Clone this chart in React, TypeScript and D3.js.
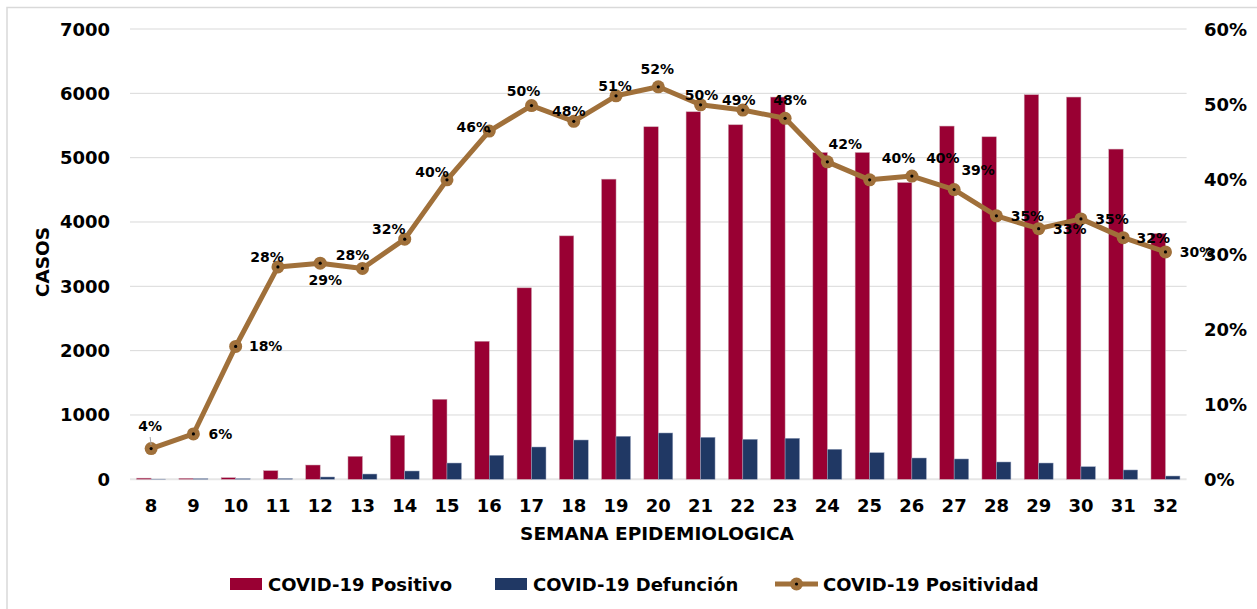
import React from "react";
import * as d3 from "d3";

// semanas epidemiologicas
const weeks = ["8", "9", "10", "11", "12", "13", "14", "15", "16", "17", "18", "19", "20", "21", "22", "23", "24", "25", "26", "27", "28", "29", "30", "31", "32"];
const positivos = [18, 15, 25, 134, 222, 357, 684, 1244, 2146, 2976, 3784, 4666, 5480, 5713, 5511, 5942, 5080, 5080, 4613, 5491, 5324, 5978, 5942, 5133, 3820];
const defunciones = [3, 10, 10, 12, 36, 82, 129, 253, 373, 502, 611, 669, 720, 653, 622, 638, 467, 414, 331, 316, 269, 253, 196, 145, 51];
const positividad = [0.041, 0.0604, 0.177, 0.283, 0.288, 0.281, 0.32, 0.399, 0.464, 0.498, 0.477, 0.511, 0.523, 0.499, 0.492, 0.481, 0.423, 0.399, 0.404, 0.386, 0.351, 0.334, 0.347, 0.322, 0.303];
const leftTicks = [0, 1000, 2000, 3000, 4000, 5000, 6000, 7000];
const rightTicks = [0, 0.1, 0.2, 0.3, 0.4, 0.5, 0.6];

// where each percent label sits relative to its point (dx, dy)
const labelOffsets = [
  [-1, -23], [27, 0], [30, 0], [-11, -10], [5, 17], [-10, -13], [-16, -10], [-15, -8],
  [-16, -4], [-8, -15], [-5, -10], [-1, -10], [-1, -18], [1, -10], [-4, -10], [5, -18],
  [18, -18], [29, -22], [31, -18], [24, -20], [31, 0], [31, 0], [31, 0], [30, 0], [31, 0],
];

const RED = "#990033";
const BLUE = "#203864";
const BROWN = "#A0703A";
const GRID = "#d9d9d9";
const FONT = "'DejaVu Sans', sans-serif";

const App = () => {
  const left = 130;
  const right = 1186.6;
  const top = 29;
  const bottom = 479.3;

  const x = d3.scaleBand().domain(weeks).range([left, right]).paddingInner(0).paddingOuter(0);
  const inner = d3.scaleBand().domain(["pos", "def"]).range([0, x.bandwidth()]).paddingInner(0).paddingOuter(0.46);
  const y = d3.scaleLinear().domain([0, 7000]).range([bottom, top]);
  const y2 = d3.scaleLinear().domain([0, 0.6]).range([bottom, top]);
  const cx = (w) => x(w) + x.bandwidth() / 2;

  const line = d3
    .line()
    .x((d, i) => cx(weeks[i]))
    .y((d) => y2(d));

  const pct = d3.format(".0%");

  return (
    <svg width={1257} height={609} style={{ position: "absolute", left: 0, top: 0, fontFamily: FONT }}>
      <rect x={0} y={0} width={1257} height={609} fill="#fff" />
      {/* frame */}
      <rect x={7} y={7.5} width={1300} height={700} fill="none" stroke={GRID} strokeWidth={1.5} />

      {/* grid lines */}
      {leftTicks.map((t) => (
        <line key={"g" + t} x1={left} x2={right} y1={y(t)} y2={y(t)} stroke={t === 0 ? "#e6e6e6" : GRID} strokeWidth={t === 0 ? 2 : 1} />
      ))}

      {/* left axis */}
      {leftTicks.map((t) => (
        <text key={"l" + t} x={110} y={y(t)} textAnchor="end" dominantBaseline="central" fontSize={18} fontWeight="bold" fill="#000">
          {t}
        </text>
      ))}
      {/* right axis */}
      {rightTicks.map((t) => (
        <text key={"r" + t} x={1204} y={y2(t)} textAnchor="start" dominantBaseline="central" fontSize={18} fontWeight="bold" fill="#000">
          {pct(t)}
        </text>
      ))}

      {/* bars */}
      {weeks.map((w, i) => (
        <g key={"b" + w}>
          <rect x={x(w) + inner("pos")} y={y(positivos[i])} width={inner.bandwidth()} height={bottom - y(positivos[i])} fill={RED} stroke="#c9a0ad" strokeWidth={0.5} />
          <rect x={x(w) + inner("def")} y={y(defunciones[i])} width={inner.bandwidth()} height={bottom - y(defunciones[i])} fill={BLUE} stroke="#9aa6c0" strokeWidth={0.5} />
        </g>
      ))}

      {/* x axis labels */}
      {weeks.map((w) => (
        <text key={"x" + w} x={cx(w)} y={505} textAnchor="middle" dominantBaseline="central" fontSize={18} fontWeight="bold" fill="#000">
          {w}
        </text>
      ))}

      {/* axis titles */}
      <text x={657} y={533} textAnchor="middle" dominantBaseline="central" fontSize={18.5} fontWeight="bold" fill="#000">
        SEMANA EPIDEMIOLOGICA
      </text>
      <text transform={`translate(42,262) rotate(-90)`} textAnchor="middle" dominantBaseline="central" fontSize={18.5} fontWeight="bold" fill="#000">
        CASOS
      </text>

      {/* positividad line */}
      <path d={line(positividad)} fill="none" stroke={BROWN} strokeWidth={5} strokeLinejoin="round" />
      {positividad.map((v, i) => (
        <g key={"p" + i}>
          <circle cx={cx(weeks[i])} cy={y2(v)} r={6.5} fill={BROWN} />
          <circle cx={cx(weeks[i])} cy={y2(v)} r={1.6} fill="#000" />
        </g>
      ))}
      {/* leader line for first label */}
      <line x1={cx(weeks[0]) - 1} x2={cx(weeks[0])} y1={437} y2={445} stroke="#a6a6a6" strokeWidth={1} />
      {positividad.map((v, i) => (
        <text
          key={"t" + i}
          x={cx(weeks[i]) + labelOffsets[i][0]}
          y={y2(v) + labelOffsets[i][1]}
          textAnchor="middle"
          dominantBaseline="central"
          fontSize={14}
          fontWeight="bold"
          fill="#000"
        >
          {pct(v)}
        </text>
      ))}

      {/* legend */}
      <rect x={230} y={578} width={32} height={12} fill={RED} />
      <text x={268} y={584} dominantBaseline="central" fontSize={18} fontWeight="bold" fill="#000">
        COVID-19 Positivo
      </text>
      <rect x={495} y={578} width={32} height={12} fill={BLUE} />
      <text x={533} y={584} dominantBaseline="central" fontSize={18} fontWeight="bold" fill="#000">
        COVID-19 Defunción
      </text>
      <line x1={775} x2={818} y1={584} y2={584} stroke={BROWN} strokeWidth={5} />
      <circle cx={796.5} cy={584} r={6.5} fill={BROWN} />
      <circle cx={796.5} cy={584} r={1.6} fill="#000" />
      <text x={823} y={584} dominantBaseline="central" fontSize={18} fontWeight="bold" fill="#000">
        COVID-19 Positividad
      </text>
    </svg>
  );
};

export default App;
